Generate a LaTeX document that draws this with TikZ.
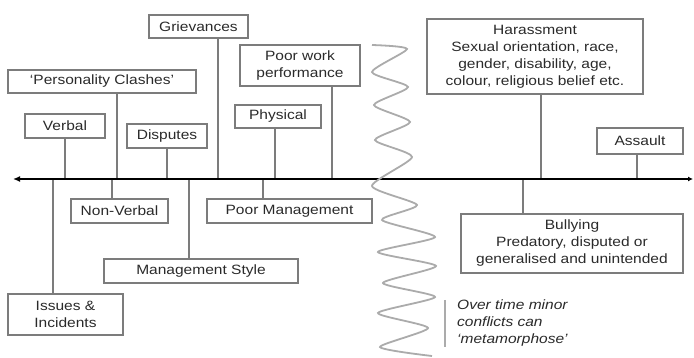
\documentclass[tikz,border=0pt]{standalone}
\usepackage{fontspec}
\setmainfont{Liberation Sans}[FakeStretch=1.15]
\usetikzlibrary{arrows.meta}
\definecolor{linegrey}{HTML}{7C7C7C}
\definecolor{wavegrey}{HTML}{ABABAB}
\definecolor{textgrey}{HTML}{2A2A2A}
\tikzset{
  box/.style={draw=linegrey, line width=1.2pt, inner sep=0pt, align=center,
    text=textgrey, font=\fontsize{13.5}{17}\selectfont},
  tick/.style={draw=linegrey, line width=1.2pt},
  wave/.style={draw=wavegrey, line width=1.8pt, smooth, tension=0.4}
}
\begin{document}
\begin{tikzpicture}[x=1pt,y=-1pt]
\useasboundingbox (0,0) rectangle (694,358);

%Boxes above the line
\node[box, minimum width=99, minimum height=23] (grievances) at (198.5,26.5) {Grievances};
\node[box, minimum width=188, minimum height=23] (clashes) at (102,81.5) {`Personality Clashes'};
\node[box, minimum width=80, minimum height=24] (verbal) at (65,126) {Verbal};
\node[box, minimum width=80, minimum height=24] (disputes) at (167,136) {Disputes};
\node[box, minimum width=120, minimum height=41] (poorwork) at (300,65.5) {Poor work\\performance};
\node[box, minimum width=86, minimum height=23] (physical) at (278,116.5) {Physical};
\node[box, minimum width=216, minimum height=75] (harassment) at (535,56.5)
  {Harassment\\Sexual orientation, race,\\gender, disability, age,\\colour, religious belief etc.};
\node[box, minimum width=86, minimum height=26] (assault) at (640,141) {Assault};

%Boxes below the line
\node[box, minimum width=97, minimum height=24] (nonverbal) at (119.5,211) {Non-Verbal};
\node[box, minimum width=165, minimum height=24] (poormgmt) at (289.5,211) {Poor Management};
\node[box, minimum width=194, minimum height=24] (mgmtstyle) at (201,271) {Management Style};
\node[box, minimum width=115, minimum height=41] (issues) at (65.5,314.5) {Issues \&\\Incidents};
\node[box, minimum width=222, minimum height=59] (bullying) at (572,243.5)
  {Bullying\\Predatory, disputed or\\generalised and unintended};

%Ticks
\foreach \n/\x in {verbal/65,clashes/117,disputes/167,grievances/218,physical/275,
    poorwork/332,harassment/541,assault/637}{
  \coordinate (t-\n) at (\x,179);
  \draw[tick] (\n.south -| t-\n) -- (t-\n);
}
\foreach \n/\x in {issues/53,nonverbal/112,mgmtstyle/189,poormgmt/263,bullying/523}{
  \coordinate (t-\n) at (\x,179);
  \draw[tick] (\n.north -| t-\n) -- (t-\n);
}

%Axis
\coordinate (left) at (13,179);
\coordinate (right) at (693,179);
\draw[{Latex[length=7pt,width=6pt]}-{Latex[length=5pt,width=5pt]}, line width=2pt] (left) -- (right);

%Wave
\draw[wave] plot coordinates {(372,45) (407,49) (372,72) (408,87) (374,105) (410,122)
  (375,140) (412,157) (372,186) (417,205) (382,220) (435,237) (378,252) (436,266)
  (383,283) (435,297) (378,313) (428,328) (380,347) (432,356)};

%Note
\node[anchor=north west, align=left, inner sep=0pt, text=textgrey,
  font=\fontsize{13.5}{17}\selectfont\itshape] (note) at (457,300)
  {Over time minor\\conflicts can\\`metamorphose'};
\draw[draw=wavegrey, line width=1.8pt] ([xshift=-12pt]note.north west) -- ([xshift=-12pt]note.south west);
\end{tikzpicture}
\end{document}
